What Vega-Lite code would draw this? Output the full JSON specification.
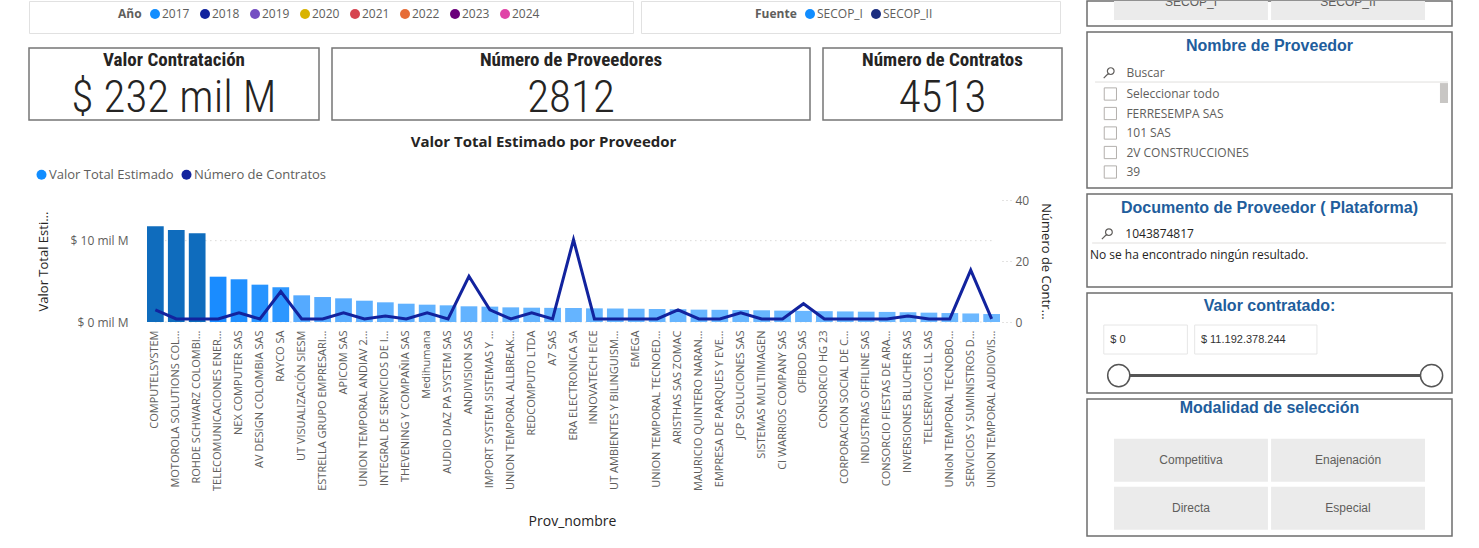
{
  "$schema": "https://vega.github.io/schema/vega-lite/v6.json",
  "background": "#ffffff",
  "padding": {"left": 28, "top": 0, "right": 0, "bottom": 0},
  "config": {
    "font": "Open Sans",
    "view": {"stroke": null}
  },
  "datasets": {
    "proveedores": [
      {"Prov_nombre": "COMPUTELSYSTEM", "valor": 11760000000, "contratos": 4},
      {"Prov_nombre": "MOTOROLA SOLUTIONS COL...", "valor": 11310000000, "contratos": 1},
      {"Prov_nombre": "ROHDE SCHWARZ COLOMBI...", "valor": 10900000000, "contratos": 1},
      {"Prov_nombre": "TELECOMUNICACIONES ENER...", "valor": 5570000000, "contratos": 1},
      {"Prov_nombre": "NEX COMPUTER SAS", "valor": 5250000000, "contratos": 3},
      {"Prov_nombre": "AV DESIGN COLOMBIA SAS", "valor": 4590000000, "contratos": 1},
      {"Prov_nombre": "RAYCO SA", "valor": 4260000000, "contratos": 10},
      {"Prov_nombre": "UT VISUALIZACIÓN SIESM", "valor": 3280000000, "contratos": 1},
      {"Prov_nombre": "ESTRELLA GRUPO EMPRESARI...", "valor": 3070000000, "contratos": 1},
      {"Prov_nombre": "APICOM SAS", "valor": 2910000000, "contratos": 3},
      {"Prov_nombre": "UNION TEMPORAL ANDIAV 2...", "valor": 2620000000, "contratos": 1},
      {"Prov_nombre": "INTEGRAL DE SERVICIOS DE I...", "valor": 2420000000, "contratos": 2},
      {"Prov_nombre": "THEVENING Y COMPAÑIA SAS", "valor": 2250000000, "contratos": 1},
      {"Prov_nombre": "Medihumana", "valor": 2130000000, "contratos": 3},
      {"Prov_nombre": "AUDIO DIAZ PA SYSTEM SAS", "valor": 2050000000, "contratos": 1},
      {"Prov_nombre": "ANDIVISION SAS", "valor": 1930000000, "contratos": 15},
      {"Prov_nombre": "IMPORT SYSTEM SISTEMAS Y ...", "valor": 1890000000, "contratos": 4},
      {"Prov_nombre": "UNION TEMPORAL ALLBREAK...", "valor": 1800000000, "contratos": 1},
      {"Prov_nombre": "REDCOMPUTO LTDA", "valor": 1760000000, "contratos": 3},
      {"Prov_nombre": "A7 SAS", "valor": 1740000000, "contratos": 1},
      {"Prov_nombre": "ERA ELECTRONICA SA", "valor": 1720000000, "contratos": 27},
      {"Prov_nombre": "INNOVATECH EICE", "valor": 1680000000, "contratos": 1},
      {"Prov_nombre": "UT AMBIENTES Y BILINGUISM...", "valor": 1660000000, "contratos": 1},
      {"Prov_nombre": "EMEGA", "valor": 1630000000, "contratos": 1},
      {"Prov_nombre": "UNION TEMPORAL TECNOED...", "valor": 1600000000, "contratos": 1},
      {"Prov_nombre": "ARISTHAS SAS ZOMAC", "valor": 1570000000, "contratos": 4},
      {"Prov_nombre": "MAURICIO QUINTERO NARAN...", "valor": 1520000000, "contratos": 1},
      {"Prov_nombre": "EMPRESA DE PARQUES Y EVE...", "valor": 1500000000, "contratos": 1},
      {"Prov_nombre": "JCP SOLUCIONES SAS", "valor": 1470000000, "contratos": 3},
      {"Prov_nombre": "SISTEMAS MULTIIMAGEN", "valor": 1440000000, "contratos": 1},
      {"Prov_nombre": "CI WARRIOS COMPANY SAS", "valor": 1400000000, "contratos": 1},
      {"Prov_nombre": "OFIBOD SAS", "valor": 1370000000, "contratos": 6},
      {"Prov_nombre": "CONSORCIO HG 23", "valor": 1330000000, "contratos": 1},
      {"Prov_nombre": "CORPORACION SOCIAL DE C...", "valor": 1300000000, "contratos": 1},
      {"Prov_nombre": "INDUSTRIAS OFFILINE SAS", "valor": 1270000000, "contratos": 1},
      {"Prov_nombre": "CONSORCIO FIESTAS DE ARA...", "valor": 1240000000, "contratos": 1},
      {"Prov_nombre": "INVERSIONES BLUCHER SAS", "valor": 1200000000, "contratos": 2},
      {"Prov_nombre": "TELESERVICIOS LL SAS", "valor": 1150000000, "contratos": 1},
      {"Prov_nombre": "UNIoN TEMPORAL TECNOBO...", "valor": 1100000000, "contratos": 1},
      {"Prov_nombre": "SERVICIOS Y SUMINISTROS D...", "valor": 1050000000, "contratos": 17},
      {"Prov_nombre": "UNION TEMPORAL AUDIOVIS...", "valor": 980000000, "contratos": 1}
    ],
    "anios": [{"Año": "2017"}, {"Año": "2018"}, {"Año": "2019"}, {"Año": "2020"}, {"Año": "2021"}, {"Año": "2022"}, {"Año": "2023"}, {"Año": "2024"}],
    "fuentes": [{"Fuente": "SECOP_I"}, {"Fuente": "SECOP_II"}],
    "series": [{"serie": "Valor Total Estimado"}, {"serie": "Número de Contratos"}],
    "kpis": [
      {"medida": "Valor Contratación", "valor": "$ 232 mil M"},
      {"medida": "Número de Proveedores", "valor": "2812"},
      {"medida": "Número de Contratos", "valor": "4513"}
    ],
    "slicers": [
      {"slicer": "Nombre de Proveedor", "busqueda": "Buscar"},
      {"slicer": "Documento de Proveedor ( Plataforma)", "busqueda": "1043874817", "mensaje": "No se ha encontrado ningún resultado."},
      {"slicer": "Valor contratado:", "minimo": "$ 0", "maximo": "$ 11.192.378.244"},
      {"slicer": "Modalidad de selección"}
    ],
    "lista_proveedores": [
      {"orden": 1, "Proveedor": "Seleccionar todo"},
      {"orden": 2, "Proveedor": "FERRESEMPA SAS"},
      {"orden": 3, "Proveedor": "101 SAS"},
      {"orden": 4, "Proveedor": "2V CONSTRUCCIONES"},
      {"orden": 5, "Proveedor": "39"}
    ],
    "modalidades": [
      {"Modalidad": "Competitiva", "fila": 1, "columna": 1},
      {"Modalidad": "Enajenación", "fila": 1, "columna": 2},
      {"Modalidad": "Directa", "fila": 2, "columna": 1},
      {"Modalidad": "Especial", "fila": 2, "columna": 2}
    ]
  },
  "resolve": {"scale": {"color": "independent", "fill": "independent"}, "legend": {"color": "independent"}},
  "spacing": 23,
  "hconcat": [
    {
      "spacing": 13,
      "resolve": {"scale": {"color": "independent", "fill": "independent"}, "legend": {"color": "independent"}},
      "vconcat": [
        {
          "spacing": 13,
          "resolve": {"scale": {"color": "independent"}, "legend": {"color": "independent"}},
          "vconcat": [
            {
              "spacing": 6,
              "resolve": {"scale": {"color": "independent"}, "legend": {"color": "independent"}},
              "hconcat": [
                {
                  "width": 604, "height": 32,
                  "view": {"stroke": "#e1e1e1"},
                  "data": {"name": "anios"},
                  "mark": {"type": "point", "filled": true, "opacity": 0},
                  "encoding": {
                    "color": {
                      "field": "Año", "type": "nominal",
                      "scale": {"domain": ["2017", "2018", "2019", "2020", "2021", "2022", "2023", "2024"],
                                "range": ["#118DFF", "#12239E", "#744EC2", "#D9B300", "#D64550", "#E66C37", "#6B007B", "#E044A7"]},
                      "legend": {"orient": "none", "legendX": 89, "legendY": 7, "direction": "horizontal",
                                 "title": "Año", "titleOrient": "left", "titleFontSize": 12, "titleFontWeight": "bold",
                                 "titleColor": "#605e5c", "titlePadding": 7, "labelFontSize": 12, "labelColor": "#605e5c",
                                 "symbolType": "circle", "symbolSize": 100, "columnPadding": 9, "labelOffset": 1}
                    }
                  }
                },
                {
                  "width": 419, "height": 32,
                  "view": {"stroke": "#e1e1e1"},
                  "data": {"name": "fuentes"},
                  "mark": {"type": "point", "filled": true, "opacity": 0},
                  "encoding": {
                    "color": {
                      "field": "Fuente", "type": "nominal",
                      "scale": {"domain": ["SECOP_I", "SECOP_II"], "range": ["#118DFF", "#1c2e80"]},
                      "legend": {"orient": "none", "legendX": 114, "legendY": 7, "direction": "horizontal",
                                 "title": "Fuente", "titleOrient": "left", "titleFontSize": 12, "titleFontWeight": "bold",
                                 "titleColor": "#605e5c", "titlePadding": 7, "labelFontSize": 12, "labelColor": "#605e5c",
                                 "symbolType": "circle", "symbolSize": 100, "columnPadding": 7, "labelOffset": 1}
                    }
                  }
                }
              ]
            },
            {
              "spacing": 11,
              "hconcat": [
                {
                  "width": 290, "height": 72,
                  "view": {"stroke": "#767676", "strokeWidth": 1.5},
                  "data": {"name": "kpis"},
                  "transform": [{"filter": "datum.medida === 'Valor Contratación'"}],
                  "layer": [
                    {"mark": {"type": "text", "font": "Roboto Condensed, Roboto", "fontSize": 19, "fontWeight": "bold", "color": "#252423"},
                     "encoding": {"text": {"field": "medida"}, "y": {"datum": 16, "type": "quantitative", "scale": {"domain": [0, 100], "reverse": true}, "axis": null}}},
                    {"mark": {"type": "text", "font": "Roboto Condensed, Roboto", "fontSize": 45, "fontWeight": 300, "color": "#252423"},
                     "encoding": {"text": {"field": "valor"}, "y": {"datum": 69, "type": "quantitative", "scale": {"domain": [0, 100], "reverse": true}, "axis": null}}}
                  ]
                },
                {
                  "width": 478, "height": 72,
                  "view": {"stroke": "#767676", "strokeWidth": 1.5},
                  "data": {"name": "kpis"},
                  "transform": [{"filter": "datum.medida === 'Número de Proveedores'"}],
                  "layer": [
                    {"mark": {"type": "text", "font": "Roboto Condensed, Roboto", "fontSize": 19, "fontWeight": "bold", "color": "#252423"},
                     "encoding": {"text": {"field": "medida"}, "y": {"datum": 16, "type": "quantitative", "scale": {"domain": [0, 100], "reverse": true}, "axis": null}}},
                    {"mark": {"type": "text", "font": "Roboto Condensed, Roboto", "fontSize": 45, "fontWeight": 300, "color": "#252423"},
                     "encoding": {"text": {"field": "valor"}, "y": {"datum": 69, "type": "quantitative", "scale": {"domain": [0, 100], "reverse": true}, "axis": null}}}
                  ]
                },
                {
                  "width": 239, "height": 72,
                  "view": {"stroke": "#767676", "strokeWidth": 1.5},
                  "data": {"name": "kpis"},
                  "transform": [{"filter": "datum.medida === 'Número de Contratos'"}],
                  "layer": [
                    {"mark": {"type": "text", "font": "Roboto Condensed, Roboto", "fontSize": 19, "fontWeight": "bold", "color": "#252423"},
                     "encoding": {"text": {"field": "medida"}, "y": {"datum": 16, "type": "quantitative", "scale": {"domain": [0, 100], "reverse": true}, "axis": null}}},
                    {"mark": {"type": "text", "font": "Roboto Condensed, Roboto", "fontSize": 45, "fontWeight": 300, "color": "#252423"},
                     "encoding": {"text": {"field": "valor"}, "y": {"datum": 69, "type": "quantitative", "scale": {"domain": [0, 100], "reverse": true}, "axis": null}}}
                  ]
                }
              ]
            }
          ]
        },
        {
          "width": 1029, "height": 122,
          "title": {"text": "Valor Total Estimado por Proveedor", "fontSize": 15, "fontWeight": "bold", "color": "#252423", "font": "Open Sans", "offset": 18, "frame": "bounds"},
          "layer": [
            {
              "data": {"name": "proveedores"},
              "mark": {"type": "line", "color": "#c8c6c4", "strokeWidth": 1, "strokeDash": [1, 4]},
              "encoding": {
                "x": {"field": "Prov_nombre", "type": "nominal", "sort": null},
                "y": {"datum": 0, "type": "quantitative", "scale": {"domain": [0, 15000000000]}, "axis": null}
              }
            },
            {
              "data": {"name": "proveedores"},
              "mark": {"type": "line", "color": "#c8c6c4", "strokeWidth": 1, "strokeDash": [1, 4]},
              "encoding": {
                "x": {"field": "Prov_nombre", "type": "nominal", "sort": null},
                "y": {"datum": 10000000000, "type": "quantitative", "scale": {"domain": [0, 15000000000]}, "axis": null}
              }
            },
            {
              "data": {"name": "proveedores"},
              "mark": {"type": "bar"},
              "encoding": {
                "x": {"field": "Prov_nombre", "type": "nominal", "sort": null,
                      "scale": {"range": [118, 971], "paddingInner": 0.2, "paddingOuter": 0},
                      "axis": {"title": "Prov_nombre", "titleFontSize": 14, "titleFontWeight": "normal", "titleColor": "#252423", "titlePadding": 24, "titleX": 543,
                               "labelAngle": -90, "labelFontSize": 11, "labelColor": "#605e5c", "labelPadding": 8, "labelLimit": 250,
                               "ticks": false, "domain": false}},
                "y": {"field": "valor", "type": "quantitative", "scale": {"domain": [0, 15000000000]},
                      "axis": {"offset": -112, "title": "Valor Total Esti...", "titleFontSize": 13, "titleFontWeight": "normal", "titleColor": "#252423", "titlePadding": 20,
                               "values": [0, 10000000000], "labelExpr": "'$ ' + format(datum.value / 1000000000, 'd') + ' mil M'",
                               "labelFontSize": 12, "labelColor": "#605e5c", "labelPadding": 13, "ticks": false, "domain": false, "grid": false}},
                "fill": {"field": "valor", "type": "quantitative",
                         "scale": {"domain": [1000000000, 2000000000, 3300000000, 4300000000, 5600000000, 10900000000],
                                   "range": ["#6cb8ff", "#62b3ff", "#55aaff", "#2b96ff", "#1a8cff", "#0f6cbd"], "clamp": true},
                         "legend": null}
              }
            },
            {
              "data": {"name": "proveedores"},
              "mark": {"type": "line", "color": "#12239E", "strokeWidth": 3},
              "encoding": {
                "x": {"field": "Prov_nombre", "type": "nominal", "sort": null},
                "y": {"field": "contratos", "type": "quantitative", "scale": {"domain": [0, 40]},
                      "axis": {"orient": "right", "offset": -56, "title": "Número de Contr...", "titleFontSize": 13, "titleFontWeight": "normal", "titleColor": "#252423", "titlePadding": 10,
                               "values": [0, 20, 40], "labelFontSize": 12, "labelColor": "#605e5c", "labelPadding": 4,
                               "ticks": true, "tickSize": 9, "tickDash": [1, 3], "tickColor": "#c8c6c4", "domain": false, "grid": false}}
              }
            },
            {
              "data": {"name": "series"},
              "mark": {"type": "point", "filled": true, "opacity": 0},
              "encoding": {
                "color": {"field": "serie", "type": "nominal",
                          "scale": {"domain": ["Valor Total Estimado", "Número de Contratos"], "range": ["#118DFF", "#12239E"]},
                          "legend": {"orient": "none", "legendX": 6, "legendY": -32, "padding": 0, "direction": "horizontal", "title": null,
                                     "symbolType": "circle", "symbolSize": 100, "labelFontSize": 13, "labelColor": "#605e5c",
                                     "columnPadding": 6, "labelOffset": 1}}
              }
            }
          ],
          "resolve": {"scale": {"y": "independent"}}
        }
      ]
    },
    {
      "spacing": 4,
      "vconcat": [
        {
          "width": 365, "height": 25,
          "view": {"stroke": "#6e6e6e", "strokeWidth": 1.5},
          "data": {"name": "fuentes"},
          "encoding": {"x": {"field": "Fuente", "type": "nominal", "sort": null, "scale": {"paddingInner": 0.02, "paddingOuter": 0.172}, "axis": null}},
          "layer": [
            {"mark": {"type": "rect", "color": "#ebebeb"},
             "encoding": {"y": {"datum": 0, "type": "quantitative", "scale": {"domain": [0, 100], "reverse": true}, "axis": null}, "y2": {"datum": 76}}},
            {"mark": {"type": "text", "font": "Liberation Sans", "fontSize": 12, "color": "#605e5c", "clip": true},
             "encoding": {"text": {"field": "Fuente"}, "y": {"datum": 4, "type": "quantitative", "scale": {"domain": [0, 100], "reverse": true}, "axis": null}}}
          ]
        },
        {
          "width": 365, "height": 156,
          "view": {"stroke": "#6e6e6e", "strokeWidth": 1.5},
          "layer": [
            {
              "data": {"name": "slicers"},
              "transform": [{"filter": "datum.slicer === 'Nombre de Proveedor'"}],
              "layer": [
                {"mark": {"type": "text", "font": "Liberation Sans", "fontSize": 16, "fontWeight": "bold", "color": "#215d9c"},
                 "encoding": {"text": {"field": "slicer"}, "y": {"datum": -1.46, "type": "quantitative", "scale": {"domain": [-2.18, 5.82], "reverse": true}, "axis": null}}},
                {"mark": {"type": "point", "shape": "M0.85,-0.3 A0.55,0.55 0 1 1 -0.25,-0.3 A0.55,0.55 0 1 1 0.85,-0.3 M-0.09,0.09 L-0.85,0.85", "size": 150, "filled": false, "stroke": "#605e5c", "strokeWidth": 1.2, "opacity": 1},
                 "encoding": {"x": {"datum": 6.0, "type": "quantitative", "scale": {"domain": [0, 100]}, "axis": null},
                              "y": {"datum": -0.08, "type": "quantitative", "scale": {"domain": [-2.18, 5.82], "reverse": true}, "axis": null}}},
                {"mark": {"type": "text", "align": "left", "fontSize": 12, "color": "#605e5c"},
                 "encoding": {"text": {"field": "busqueda"},
                              "x": {"datum": 10.8, "type": "quantitative", "scale": {"domain": [0, 100]}, "axis": null},
                              "y": {"datum": -0.08, "type": "quantitative", "scale": {"domain": [-2.18, 5.82], "reverse": true}, "axis": null}}},
                {"mark": {"type": "rule", "color": "#e1dfdd", "strokeWidth": 1},
                 "encoding": {"x": {"datum": 2.2, "type": "quantitative", "scale": {"domain": [0, 100]}, "axis": null}, "x2": {"datum": 98.9},
                              "y": {"datum": 0.385, "type": "quantitative", "scale": {"domain": [-2.18, 5.82], "reverse": true}, "axis": null}}},
                {"mark": {"type": "rect", "color": "#c8c6c4"},
                 "encoding": {"x": {"datum": 96.7, "type": "quantitative", "scale": {"domain": [0, 100]}, "axis": null}, "x2": {"datum": 98.9},
                              "y": {"datum": 0.44, "type": "quantitative", "scale": {"domain": [-2.18, 5.82], "reverse": true}, "axis": null}, "y2": {"datum": 1.46}}}
              ]
            },
            {
              "data": {"name": "lista_proveedores"},
              "layer": [
                {"mark": {"type": "point", "shape": "square", "size": 150, "filled": true, "fill": "#ffffff", "stroke": "#b3b0ad", "strokeWidth": 1, "opacity": 1},
                 "encoding": {"x": {"datum": 6.4, "type": "quantitative", "scale": {"domain": [0, 100]}, "axis": null},
                              "y": {"field": "orden", "type": "quantitative", "scale": {"domain": [-2.18, 5.82], "reverse": true}, "axis": null}}},
                {"mark": {"type": "text", "align": "left", "fontSize": 12, "color": "#605e5c"},
                 "encoding": {"text": {"field": "Proveedor"},
                              "x": {"datum": 10.8, "type": "quantitative", "scale": {"domain": [0, 100]}, "axis": null},
                              "y": {"field": "orden", "type": "quantitative", "scale": {"domain": [-2.18, 5.82], "reverse": true}, "axis": null}}}
              ]
            }
          ]
        },
        {
          "width": 365, "height": 93,
          "view": {"stroke": "#6e6e6e", "strokeWidth": 1.5},
          "data": {"name": "slicers"},
          "transform": [{"filter": "datum.slicer === 'Documento de Proveedor ( Plataforma)'"}],
          "layer": [
            {"mark": {"type": "text", "font": "Liberation Sans", "fontSize": 16, "fontWeight": "bold", "color": "#215d9c"},
             "encoding": {"text": {"field": "slicer"}, "y": {"datum": 15, "type": "quantitative", "scale": {"domain": [0, 100], "reverse": true}, "axis": null}}},
            {"mark": {"type": "point", "shape": "M0.85,-0.3 A0.55,0.55 0 1 1 -0.25,-0.3 A0.55,0.55 0 1 1 0.85,-0.3 M-0.09,0.09 L-0.85,0.85", "size": 150, "filled": false, "stroke": "#605e5c", "strokeWidth": 1.2, "opacity": 1},
             "encoding": {"x": {"datum": 5.5, "type": "quantitative", "scale": {"domain": [0, 100]}, "axis": null},
                          "y": {"datum": 43, "type": "quantitative", "scale": {"domain": [0, 100], "reverse": true}, "axis": null}}},
            {"mark": {"type": "text", "align": "left", "fontSize": 12, "color": "#252423"},
             "encoding": {"text": {"field": "busqueda"},
                          "x": {"datum": 10.5, "type": "quantitative", "scale": {"domain": [0, 100]}, "axis": null},
                          "y": {"datum": 43, "type": "quantitative", "scale": {"domain": [0, 100], "reverse": true}, "axis": null}}},
            {"mark": {"type": "rule", "color": "#e1dfdd", "strokeWidth": 1},
             "encoding": {"x": {"datum": 1.4, "type": "quantitative", "scale": {"domain": [0, 100]}, "axis": null}, "x2": {"datum": 98.4},
                          "y": {"datum": 52.7, "type": "quantitative", "scale": {"domain": [0, 100], "reverse": true}, "axis": null}}},
            {"mark": {"type": "text", "align": "left", "fontSize": 12, "color": "#252423"},
             "encoding": {"text": {"field": "mensaje"},
                          "x": {"datum": 0.8, "type": "quantitative", "scale": {"domain": [0, 100]}, "axis": null},
                          "y": {"datum": 65.6, "type": "quantitative", "scale": {"domain": [0, 100], "reverse": true}, "axis": null}}}
          ]
        },
        {
          "width": 365, "height": 100,
          "view": {"stroke": "#6e6e6e", "strokeWidth": 1.5},
          "data": {"name": "slicers"},
          "transform": [{"filter": "datum.slicer === 'Valor contratado:'"}],
          "layer": [
            {"mark": {"type": "text", "font": "Liberation Sans", "fontSize": 16, "fontWeight": "bold", "color": "#215d9c"},
             "encoding": {"text": {"field": "slicer"}, "y": {"datum": 13, "type": "quantitative", "scale": {"domain": [0, 100], "reverse": true}, "axis": null}}},
            {"mark": {"type": "rect", "fill": "#ffffff", "stroke": "#e6e6e6", "strokeWidth": 1},
             "encoding": {"x": {"datum": 4.6, "type": "quantitative", "scale": {"domain": [0, 100]}, "axis": null}, "x2": {"datum": 27.5},
                          "y": {"datum": 32, "type": "quantitative", "scale": {"domain": [0, 100], "reverse": true}, "axis": null}, "y2": {"datum": 61}}},
            {"mark": {"type": "rect", "fill": "#ffffff", "stroke": "#e6e6e6", "strokeWidth": 1},
             "encoding": {"x": {"datum": 29.5, "type": "quantitative", "scale": {"domain": [0, 100]}, "axis": null}, "x2": {"datum": 63.0},
                          "y": {"datum": 32, "type": "quantitative", "scale": {"domain": [0, 100], "reverse": true}, "axis": null}, "y2": {"datum": 61}}},
            {"mark": {"type": "text", "align": "left", "font": "Liberation Sans", "fontSize": 11, "color": "#333333"},
             "encoding": {"text": {"field": "minimo"},
                          "x": {"datum": 6.4, "type": "quantitative", "scale": {"domain": [0, 100]}, "axis": null},
                          "y": {"datum": 47, "type": "quantitative", "scale": {"domain": [0, 100], "reverse": true}, "axis": null}}},
            {"mark": {"type": "text", "align": "left", "font": "Liberation Sans", "fontSize": 11, "color": "#333333"},
             "encoding": {"text": {"field": "maximo"},
                          "x": {"datum": 31.2, "type": "quantitative", "scale": {"domain": [0, 100]}, "axis": null},
                          "y": {"datum": 47, "type": "quantitative", "scale": {"domain": [0, 100], "reverse": true}, "axis": null}}},
            {"mark": {"type": "rule", "color": "#555555", "strokeWidth": 3},
             "encoding": {"x": {"datum": 8.7, "type": "quantitative", "scale": {"domain": [0, 100]}, "axis": null}, "x2": {"datum": 94.4},
                          "y": {"datum": 82.6, "type": "quantitative", "scale": {"domain": [0, 100], "reverse": true}, "axis": null}}},
            {"mark": {"type": "point", "shape": "circle", "size": 490, "filled": true, "fill": "#ffffff", "stroke": "#555555", "strokeWidth": 1.5, "opacity": 1},
             "encoding": {"x": {"datum": 8.7, "type": "quantitative", "scale": {"domain": [0, 100]}, "axis": null},
                          "y": {"datum": 82.6, "type": "quantitative", "scale": {"domain": [0, 100], "reverse": true}, "axis": null}}},
            {"mark": {"type": "point", "shape": "circle", "size": 490, "filled": true, "fill": "#ffffff", "stroke": "#555555", "strokeWidth": 1.5, "opacity": 1},
             "encoding": {"x": {"datum": 94.4, "type": "quantitative", "scale": {"domain": [0, 100]}, "axis": null},
                          "y": {"datum": 82.6, "type": "quantitative", "scale": {"domain": [0, 100], "reverse": true}, "axis": null}}}
          ]
        },
        {
          "width": 365, "height": 137,
          "view": {"stroke": "#6e6e6e", "strokeWidth": 1.5},
          "layer": [
            {
              "data": {"name": "slicers"},
              "transform": [{"filter": "datum.slicer === 'Modalidad de selección'"}],
              "mark": {"type": "text", "font": "Liberation Sans", "fontSize": 16, "fontWeight": "bold", "color": "#215d9c"},
              "encoding": {"text": {"field": "slicer"}, "y": {"datum": 6.3, "type": "quantitative", "scale": {"domain": [0, 100], "reverse": true}, "axis": null}}
            },
            {
              "data": {"name": "modalidades"},
              "encoding": {
                "x": {"field": "columna", "type": "ordinal", "scale": {"paddingInner": 0.02, "paddingOuter": 0.172}, "axis": null},
                "y": {"field": "fila", "type": "ordinal", "scale": {"paddingInner": 0.104, "paddingOuter": 0.479, "align": 0.865}, "axis": null}
              },
              "layer": [
                {"mark": {"type": "rect", "color": "#ebebeb"}},
                {"mark": {"type": "text", "font": "Liberation Sans", "fontSize": 12, "color": "#605e5c"}, "encoding": {"text": {"field": "Modalidad"}}}
              ]
            }
          ],
          "resolve": {"scale": {"y": "independent"}}
        }
      ]
    }
  ]
}
